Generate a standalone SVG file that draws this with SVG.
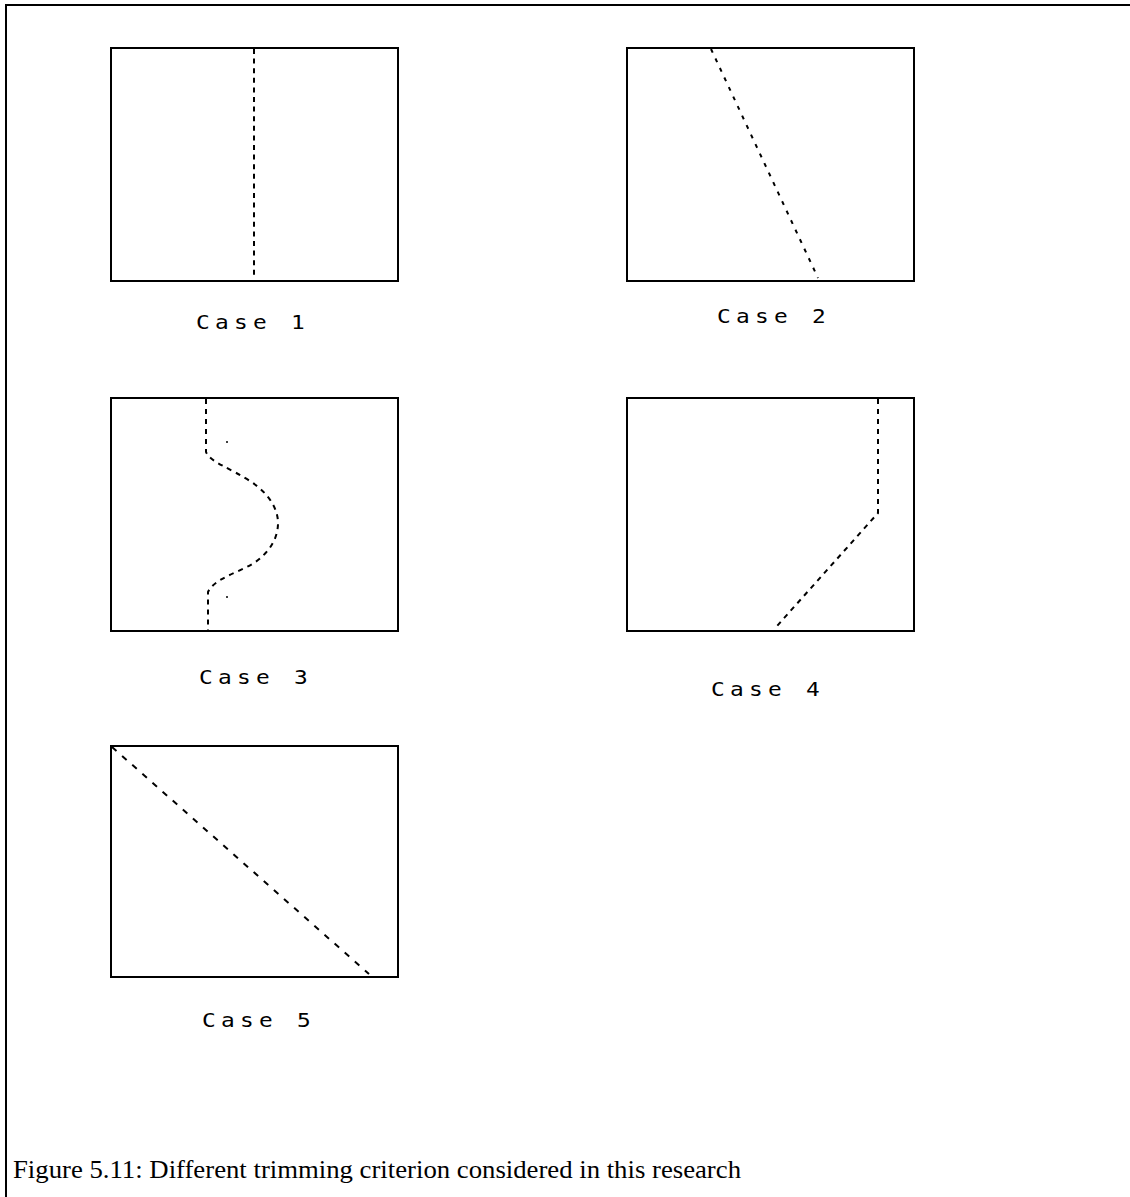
<svg xmlns="http://www.w3.org/2000/svg" width="1130" height="1197" viewBox="0 0 1130 1197">
<style>
.box{fill:none;stroke:#000;stroke-width:2}
.cut{fill:none;stroke:#000;stroke-width:2}
.lbl{font-family:"DejaVu Sans Mono","Liberation Mono",monospace;font-size:19px;letter-spacing:4.4px;fill:#000}
.cap{font-family:"Liberation Serif","Times New Roman",serif;font-size:25px;fill:#000}
</style>
<rect width="1130" height="1197" fill="#fff"/>
<path d="M6,1197 V5 H1130" fill="none" stroke="#000" stroke-width="2"/>
<g id="case1">
<rect class="box" x="111" y="48" width="287" height="233"/>
<line class="cut" x1="254" y1="49" x2="254" y2="279" stroke-dasharray="5 4.6"/>
<text class="lbl" transform="translate(196,329) scale(1.2,1)">Case 1</text>
</g>
<g id="case2">
<rect class="box" x="627" y="48" width="287" height="233"/>
<line class="cut" x1="711" y1="49" x2="818" y2="278" stroke-dasharray="4 6.5"/>
<text class="lbl" transform="translate(717,323) scale(1.2,1)">Case 2</text>
</g>
<g id="case3">
<rect class="box" x="111" y="398" width="287" height="233"/>
<path class="cut" d="M206,399 V452 C210,462 230,468 250,481 C270,494 278,510 278,523 C278,538 270,552 254,563 C238,573 215,578 208,592 V631" stroke-dasharray="5 5"/>
<circle cx="227" cy="442" r="1" fill="#000"/>
<circle cx="227" cy="597" r="1" fill="#000"/>
<text class="lbl" transform="translate(199,684) scale(1.2,1)">Case 3</text>
</g>
<g id="case4">
<rect class="box" x="627" y="398" width="287" height="233"/>
<path class="cut" d="M878,399 V513 L777,626" stroke-dasharray="5 5"/>
<text class="lbl" transform="translate(711,696) scale(1.2,1)">Case 4</text>
</g>
<g id="case5">
<rect class="box" x="111" y="746" width="287" height="231"/>
<line class="cut" x1="112" y1="747" x2="369" y2="974" stroke-dasharray="6 7.5" stroke-width="1.8"/>
<text class="lbl" transform="translate(202,1027) scale(1.2,1)">Case 5</text>
</g>
<g id="connectors"></g>
<text class="cap" x="13" y="1178" textLength="728" lengthAdjust="spacingAndGlyphs">Figure 5.11: Different trimming criterion considered in this research</text>
</svg>
